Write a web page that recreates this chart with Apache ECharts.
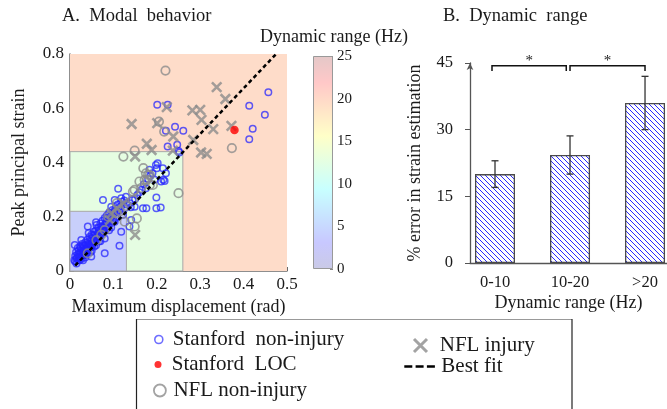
<!DOCTYPE html>
<html>
<head>
<meta charset="utf-8">
<script src="https://cdn.jsdelivr.net/npm/echarts@6/dist/echarts.min.js"></script>
<style>html,body{margin:0;padding:0;background:#fff;}#c{width:667px;height:409px;}</style>
</head>
<body>
<div id="c"></div>
<script>
// ---------- data ----------
const stanfordNonInjury = [
  [0.201,0.613],[0.225,0.613],[0.413,0.609],[0.457,0.659],[0.449,0.576],[0.421,0.524],[0.413,0.486],
  [0.242,0.532],[0.261,0.517],[0.221,0.517],[0.225,0.459],[0.247,0.465],[0.252,0.437],[0.250,0.442],
  [0.202,0.397],[0.200,0.379],[0.214,0.379],[0.198,0.391],[0.183,0.373],[0.221,0.360],[0.210,0.330],
  [0.175,0.305],[0.195,0.336],[0.218,0.332],[0.199,0.271],[0.209,0.234],[0.199,0.231],[0.176,0.231],
  [0.168,0.231],[0.149,0.237],[0.126,0.231],[0.144,0.262],[0.129,0.274],[0.111,0.303],[0.118,0.268],
  [0.103,0.262],[0.076,0.262],[0.095,0.237],[0.122,0.207],[0.141,0.188],[0.137,0.164],[0.118,0.145],
  [0.114,0.093],[0.080,0.065],[0.103,0.182],[0.084,0.194],[0.061,0.170],[0.041,0.164],[0.026,0.114],
  [0.011,0.096],[0.022,0.059],[0.049,0.053],[0.015,0.028],[0.215,0.336],
  [0.160,0.290],[0.170,0.320],[0.185,0.350],[0.190,0.360],[0.180,0.340],[0.165,0.300],[0.155,0.280],
  [0.150,0.265],[0.138,0.250],[0.130,0.245],[0.140,0.235],
  [0.010,0.040],[0.012,0.055],[0.015,0.045],[0.018,0.062],[0.020,0.050],[0.020,0.075],[0.022,0.040],
  [0.025,0.065],[0.025,0.085],[0.028,0.055],[0.030,0.072],[0.030,0.095],[0.032,0.060],[0.035,0.080],
  [0.035,0.105],[0.038,0.068],[0.040,0.090],[0.040,0.115],[0.042,0.078],[0.045,0.100],[0.045,0.125],
  [0.048,0.088],[0.050,0.110],[0.050,0.135],[0.052,0.095],[0.055,0.120],[0.055,0.145],[0.058,0.105],
  [0.060,0.130],[0.060,0.150],[0.062,0.115],[0.065,0.140],[0.065,0.160],[0.068,0.125],[0.070,0.150],
  [0.070,0.175],[0.072,0.135],[0.075,0.160],[0.075,0.185],[0.078,0.145],[0.080,0.170],[0.080,0.195],
  [0.083,0.155],[0.085,0.180],[0.085,0.205],[0.088,0.165],[0.090,0.190],[0.090,0.215],[0.093,0.175],
  [0.095,0.200],[0.098,0.225],[0.100,0.185],[0.100,0.210],[0.105,0.230],[0.105,0.195],[0.108,0.220],
  [0.110,0.245],[0.115,0.225],[0.118,0.240],[0.120,0.255],[0.125,0.260],[0.060,0.095],[0.050,0.075],
  [0.070,0.110],[0.035,0.050],[0.090,0.150],[0.030,0.040],[0.018,0.085],[0.028,0.100],[0.043,0.140],
  [0.060,0.180],[0.080,0.120],[0.095,0.160],
  [0.012,0.035],[0.014,0.070],[0.016,0.050],[0.019,0.040],[0.021,0.065],[0.023,0.090],[0.024,0.050],
  [0.026,0.075],[0.027,0.045],[0.029,0.085],[0.031,0.065],[0.033,0.090],[0.034,0.070],[0.036,0.095],
  [0.037,0.060],[0.039,0.080],[0.041,0.100],[0.043,0.085],[0.044,0.110],[0.046,0.095],[0.047,0.070],
  [0.049,0.120],[0.051,0.100],[0.053,0.130],[0.054,0.110],[0.056,0.090],[0.057,0.135],[0.059,0.120],
  [0.063,0.125],[0.066,0.150],[0.067,0.110],[0.071,0.140],[0.073,0.165],[0.077,0.150],[0.082,0.175],
  [0.086,0.160],[0.092,0.200],[0.097,0.185],[0.102,0.220],[0.112,0.235]
];
const stanfordLOC = [[0.379,0.520]];
const nflNonInjury = [
  [0.220,0.739],[0.373,0.453],[0.149,0.444],[0.123,0.422],[0.205,0.551],[0.217,0.514],[0.169,0.379],
  [0.250,0.287],[0.184,0.354],[0.177,0.336],[0.172,0.336],[0.184,0.317],[0.191,0.317],[0.180,0.354],
  [0.164,0.306],[0.149,0.299],[0.145,0.293],[0.145,0.262],[0.154,0.194],[0.149,0.164],[0.126,0.182],
  [0.107,0.213],[0.088,0.200],[0.108,0.250],[0.080,0.151],[0.072,0.133],[0.061,0.114],[0.041,0.065],
  [0.160,0.330],[0.175,0.360],[0.130,0.240],[0.115,0.220]
];
const nflInjury = [
  [0.338,0.678],[0.358,0.634],[0.142,0.542],[0.201,0.545],[0.223,0.604],[0.282,0.592],[0.300,0.594],
  [0.303,0.557],[0.330,0.523],[0.372,0.535],[0.238,0.496],[0.284,0.483],[0.302,0.437],[0.315,0.432],
  [0.177,0.469],[0.188,0.446],[0.150,0.422],[0.237,0.444],[0.150,0.133],[0.096,0.213],[0.108,0.231],
  [0.123,0.250],[0.092,0.188]
];
const bestFit = [[0.012,0.020],[0.475,0.800]];
// dynamic-range regions: [xMax, yMax, colour]
const regions = [[0.5,0.8,'#fedcc9'],[0.26,0.44,'#e5fde2'],[0.13,0.22,'#c8cffb']];
const colorbarTicks = [0,5,10,15,20,25];
const rangeCategories = ['0-10','10-20','>20'];
const errorMean = [20,24.3,36];
const errorLow = [17,20,30];
const errorHigh = [23,28.6,42];
const bracketSpans = [[-0.04,0.95],[1.0,2.0]];
const bracketLabels = ['*','*'];

// ---------- helpers ----------
const FF = '"Liberation Serif", "DejaVu Serif", serif';
function hatch(){
  const c=document.createElement('canvas'); c.width=5; c.height=5;
  const g=c.getContext('2d'); g.fillStyle='#fff'; g.fillRect(0,0,5,5);
  g.strokeStyle='#2a2aff'; g.lineWidth=1; g.beginPath();
  g.moveTo(-1,-1); g.lineTo(6,6); g.moveTo(-1,4); g.lineTo(1,6); g.moveTo(4,-1); g.lineTo(6,1);
  g.stroke(); return c;
}
const X_PATH = 'path://M0,0L10,10M10,0L0,10';
const barData = errorMean.map((v,i)=>[i,v]);
const errData = errorMean.map((v,i)=>[i,errorLow[i],errorHigh[i]]);
const bracketData = bracketSpans.map((s,i)=>[s[0],s[1],44.4,43.2,i]);

const chart = echarts.init(document.getElementById('c'), null, {renderer:'canvas'});
const axisGray = '#6a6a6a';
const txt = '#1a1a1a';
const legendText = {fontFamily:FF,fontSize:21,color:txt};
const option = {
  backgroundColor:'#fff',
  animation:false,
  title:[
    {text:'A.  Modal  behavior', left:62, top:7, padding:0, textStyle:{fontFamily:FF,fontSize:18.5,fontWeight:'normal',color:txt}},
    {text:'B.  Dynamic  range', left:443, top:7, padding:0, textStyle:{fontFamily:FF,fontSize:18.5,fontWeight:'normal',color:txt}},
    {text:'Dynamic range (Hz)', left:260, top:28, padding:0, textStyle:{fontFamily:FF,fontSize:18,fontWeight:'normal',color:txt}}
  ],
  grid:[
    {left:70, top:54, width:217, height:217},
    {left:313, top:56, width:20, height:213},
    {left:470, top:63, width:197, height:200}
  ],
  xAxis:[
    {gridIndex:0, type:'value', min:0, max:0.5, interval:0.1,
     name:'Maximum displacement (rad)', nameLocation:'middle', nameGap:26,
     nameTextStyle:{fontFamily:FF,fontSize:18,color:txt},
     axisLine:{onZero:false,lineStyle:{color:axisGray,width:1.5}}, axisTick:{inside:true,length:4,lineStyle:{color:axisGray}},
     axisLabel:{fontFamily:FF,fontSize:17,color:txt,margin:5}, splitLine:{show:false}},
    {gridIndex:1, type:'category', data:['cb'], show:false},
    {gridIndex:2, type:'value', min:-1/3, max:2.293,
     name:'Dynamic range (Hz)', nameLocation:'middle', nameGap:31,
     nameTextStyle:{fontFamily:FF,fontSize:18,color:txt},
     axisLine:{onZero:false,lineStyle:{color:'#555',width:1.3}}, axisTick:{show:false},
     axisLabel:{fontFamily:FF,fontSize:16.5,color:txt,margin:11,customValues:[0,1,2],
       formatter:(v)=>rangeCategories[Math.round(v)]||''},
     splitLine:{show:false}}
  ],
  yAxis:[
    {gridIndex:0, type:'value', min:0, max:0.8, interval:0.2,
     name:'Peak principal strain', nameLocation:'middle', nameGap:42,
     nameTextStyle:{fontFamily:FF,fontSize:18,color:txt},
     axisLine:{show:true,onZero:false,lineStyle:{color:axisGray,width:1.5}}, axisTick:{show:true,inside:true,length:4,lineStyle:{color:axisGray}},
     axisLabel:{fontFamily:FF,fontSize:17,color:txt,margin:6}, splitLine:{show:false}},
    {gridIndex:1, type:'value', min:0, max:25, interval:5, position:'right',
     axisLine:{show:false}, axisTick:{show:true,inside:true,length:3,lineStyle:{color:'#888'}},
     axisLabel:{fontFamily:FF,fontSize:15,color:txt,margin:4}, splitLine:{show:false}},
    {gridIndex:2, type:'value', min:0, max:45, interval:15,
     name:'% error in strain estimation', nameLocation:'middle', nameGap:46,
     nameTextStyle:{fontFamily:FF,fontSize:18,color:txt},
     axisLine:{show:true,onZero:false,symbol:['none','arrow'],symbolSize:[5,7],lineStyle:{color:'#555',width:1.3}},
     axisTick:{show:true,length:5,lineStyle:{color:'#555'}},
     axisLabel:{fontFamily:FF,fontSize:16.5,color:txt,margin:17}, splitLine:{show:false}}
  ],
  legend:[
    {data:['Stanford  non-injury'], left:154, top:329, itemWidth:18, itemHeight:8, padding:0, selectedMode:false,
     textStyle:legendText, itemStyle:{color:'transparent',borderColor:'#4a4aff',borderWidth:1.6}},
    {data:['Stanford  LOC'], left:154.5, top:354, itemWidth:17.5, itemHeight:7, padding:0, selectedMode:false,
     textStyle:legendText, itemStyle:{color:'#ff0000',borderWidth:0}},
    {data:['NFL non-injury'], left:153, top:380, itemWidth:17, itemHeight:12, padding:0, selectedMode:false,
     textStyle:legendText, itemStyle:{color:'transparent',borderColor:'#8c8c8c',borderWidth:1.8}},
    {data:['NFL injury'], left:412.5, top:335, itemWidth:28.5, itemHeight:13, padding:0, selectedMode:false,
     textStyle:legendText, itemStyle:{color:'transparent',borderColor:'#8c8c8c',borderWidth:3}},
    {data:['Best fit'], left:403, top:356, itemWidth:32, itemHeight:8, padding:0, selectedMode:false,
     textStyle:legendText, itemStyle:{opacity:0}, lineStyle:{type:[8,3.3],width:2.6,color:'#000'}}
  ],
  graphic:[
    {type:'line', shape:{x1:136,y1:319.5,x2:572,y2:319.5}, style:{stroke:'#999',lineWidth:1}, silent:true},
    {type:'line', shape:{x1:136.5,y1:319,x2:136.5,y2:420}, style:{stroke:'#222',lineWidth:1.2}, silent:true},
    {type:'line', shape:{x1:572,y1:319,x2:572,y2:420}, style:{stroke:'#222',lineWidth:1.2}, silent:true}
  ],
  series:[
    {name:'Stanford  non-injury', type:'scatter', xAxisIndex:0, yAxisIndex:0, data:stanfordNonInjury,
     symbol:'circle', symbolSize:6.5, z:2,
     itemStyle:{color:'transparent', borderColor:'rgba(35,35,255,0.92)', borderWidth:1.5},
     markArea:{silent:true, label:{show:false},
       data: regions.map(r=>[{coord:[0,0], itemStyle:{color:r[2], borderColor: r[0]<0.5?'#a8a8a8':'transparent', borderWidth: r[0]<0.5?1:0}},{coord:[r[0],r[1]]}])}},
    {name:'NFL non-injury', type:'scatter', xAxisIndex:0, yAxisIndex:0, data:nflNonInjury,
     symbol:'circle', symbolSize:8.5, z:3,
     itemStyle:{color:'transparent', borderColor:'#8c8c8c', borderWidth:1.7}},
    {name:'NFL injury', type:'scatter', xAxisIndex:0, yAxisIndex:0, data:nflInjury,
     symbol:X_PATH, symbolSize:9.5, symbolKeepAspect:true, z:4,
     itemStyle:{color:'transparent', borderColor:'#8c8c8c', borderWidth:2.6}},
    {name:'Stanford  LOC', type:'scatter', xAxisIndex:0, yAxisIndex:0, data:stanfordLOC,
     symbol:'circle', symbolSize:8.5, z:5, itemStyle:{color:'#ff0000'}},
    {name:'Best fit', type:'line', xAxisIndex:0, yAxisIndex:0, data:bestFit, symbol:'none', z:6,
     lineStyle:{color:'#000', width:2.5, type:[4,3]}},
    {type:'bar', xAxisIndex:1, yAxisIndex:1, data:[25], barWidth:'100%', silent:true,
     itemStyle:{borderColor:'#999', borderWidth:1,
       color:{type:'linear',x:0,y:1,x2:0,y2:0,colorStops:[
         {offset:0,color:'#cacae6'},{offset:0.125,color:'#c8c8ff'},{offset:0.375,color:'#c8ffff'},
         {offset:0.625,color:'#ffffc8'},{offset:0.875,color:'#ffc8c8'},{offset:1,color:'#e4c8c8'}]}}},
    {type:'bar', xAxisIndex:2, yAxisIndex:2, data:barData, barWidth:40, silent:true,
     itemStyle:{color:{image:hatch(), repeat:'repeat'}, borderColor:'#4a4a4a', borderWidth:1.3}},
    {type:'custom', xAxisIndex:2, yAxisIndex:2, data:errData, encode:{x:0,y:[1,2]}, z:5, silent:true,
     renderItem:(params,api)=>{
       const x=api.value(0), p1=api.coord([x,api.value(1)]), p2=api.coord([x,api.value(2)]);
       const w=3.5, st={stroke:'#333',lineWidth:1.3};
       return {type:'group',children:[
         {type:'line',shape:{x1:p1[0],y1:p1[1],x2:p2[0],y2:p2[1]},style:st},
         {type:'line',shape:{x1:p1[0]-w,y1:p1[1],x2:p1[0]+w,y2:p1[1]},style:st},
         {type:'line',shape:{x1:p2[0]-w,y1:p2[1],x2:p2[0]+w,y2:p2[1]},style:st}]};
     }},
    {type:'custom', xAxisIndex:2, yAxisIndex:2, data:bracketData, encode:{x:[0,1],y:[2,3]}, z:5, silent:true, clip:false,
     renderItem:(params,api)=>{
       const a=api.coord([api.value(0),api.value(2)]), b=api.coord([api.value(1),api.value(2)]);
       const ea=api.coord([api.value(0),api.value(3)]), eb=api.coord([api.value(1),api.value(3)]);
       return {type:'group',children:[
         {type:'polyline',shape:{points:[[ea[0],ea[1]],[a[0],a[1]],[b[0],b[1]],[eb[0],eb[1]]]},style:{stroke:'#111',lineWidth:1.5,fill:null}},
         {type:'text',style:{text:bracketLabels[api.value(4)],x:(a[0]+b[0])/2,y:a[1]-5,align:'center',verticalAlign:'middle',
           fontFamily:FF,fontSize:15,fill:txt}}]};
     }}
  ]
};
chart.setOption(option);
</script>
</body>
</html>
